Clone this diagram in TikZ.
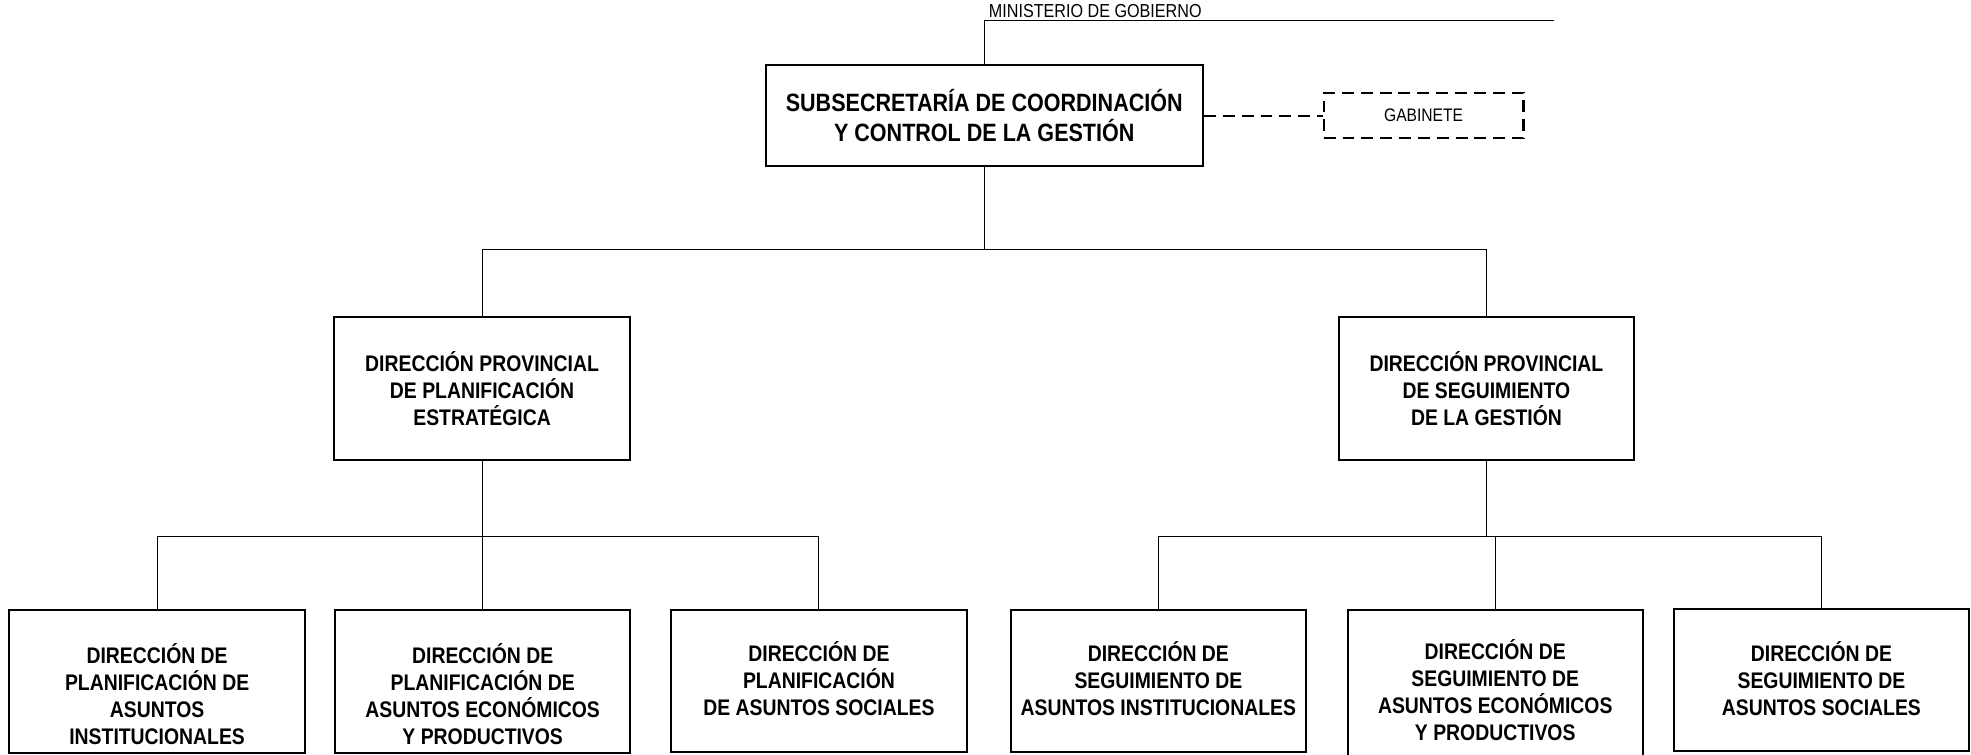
\documentclass[tikz,border=0pt]{standalone}
\usepackage{fontspec}
\setmainfont{Liberation Sans}[FakeStretch=0.86]
\usetikzlibrary{calc}

\begin{document}
\begin{tikzpicture}[x=1bp,y=-1bp]
  \useasboundingbox (0,0) rectangle (1568,600);
  \clip (0,0) rectangle (1568,600);
  \begin{scope}[
    every node/.style={
      draw,
      line width=1.6bp,
      align=center,
      font=\bfseries\fontsize{18}{21.5}\selectfont,
      minimum width=235bp,
      minimum height=114bp,
      inner sep=0pt,
    },
    ]
    \node(sub) [minimum width=348bp,minimum height=80bp,
      font=\bfseries\fontsize{20}{24}\selectfont] at (783,92)
      {SUBSECRETARÍA DE COORDINACIÓN\\Y CONTROL DE LA GESTIÓN};
    \node(gab) [line width=1.8bp,dash pattern=on 9.5bp off 5.5bp,minimum width=159bp,
      minimum height=36bp,font=\fontsize{14.5}{17}\selectfont]
      at (1132.5,92) {GABINETE};
    \node(dp1) at (383.5,309) {DIRECCIÓN PROVINCIAL\\DE PLANIFICACIÓN\\ESTRATÉGICA};
    \node(dp2) at (1182.5,309) {DIRECCIÓN PROVINCIAL\\DE SEGUIMIENTO\\DE LA GESTIÓN};
    \foreach \i/\x/\y/\h in {1/125/542/114,2/384/542/114,3/651.5/541.5/113,
      4/921.5/541.5/113,5/1189.5/550/130,6/1449/541/113}{
      \node(d\i) [minimum height=\h bp] at (\x,\y) {};
    };
  \end{scope}
  \begin{scope}[
    every node/.style={
      align=center,
      font=\bfseries\fontsize{18}{21.5}\selectfont,
      inner sep=0pt,
    },
    ]
    \foreach \i/\ty/\txt in {
      1/552/{DIRECCIÓN DE\\PLANIFICACIÓN DE\\ASUNTOS\\INSTITUCIONALES},
      2/552/{DIRECCIÓN DE\\PLANIFICACIÓN DE\\ASUNTOS ECONÓMICOS\\Y PRODUCTIVOS},
      3/540/{DIRECCIÓN DE\\PLANIFICACIÓN\\DE ASUNTOS SOCIALES},
      4/540/{DIRECCIÓN DE\\SEGUIMIENTO DE\\ASUNTOS INSTITUCIONALES},
      5/549/{DIRECCIÓN DE\\SEGUIMIENTO DE\\ASUNTOS ECONÓMICOS\\Y PRODUCTIVOS},
      6/540/{DIRECCIÓN DE\\SEGUIMIENTO DE\\ASUNTOS SOCIALES}}{
      \node(t\i) at (d\i|-0,\ty) {\txt};
    };
  \end{scope}
  \coordinate(min-end) at (1236,16);
  \node(min) [anchor=south west,inner sep=1.5bp,font=\fontsize{15}{17}\selectfont]
    at ($(sub.north|-min-end)+(2,0)$) {MINISTERIO DE GOBIERNO};
  \begin{scope}[every path/.style={draw,line width=0.8bp}]
    \path (sub.north) |- (min-end);
    \path (sub.south) -- ++(0,66) coordinate(sub-bus);
    \path (sub-bus) -| (dp1.north);
    \path (sub-bus) -| (dp2.north);
    \foreach \p/\a/\b/\c in {dp1/d1/d2/d3,dp2/d4/d5/d6}{
      \path (\p.south) -- ++(0,60) coordinate(\p-bus);
      \foreach \d in {\a,\b,\c}{
        \path (\p-bus) -| (\d.north);
      }
    }
    \path[line width=1.8bp,dash pattern=on 9.5bp off 5.5bp] (sub.east) -- (gab.west);
  \end{scope}
\end{tikzpicture}
\end{document}
